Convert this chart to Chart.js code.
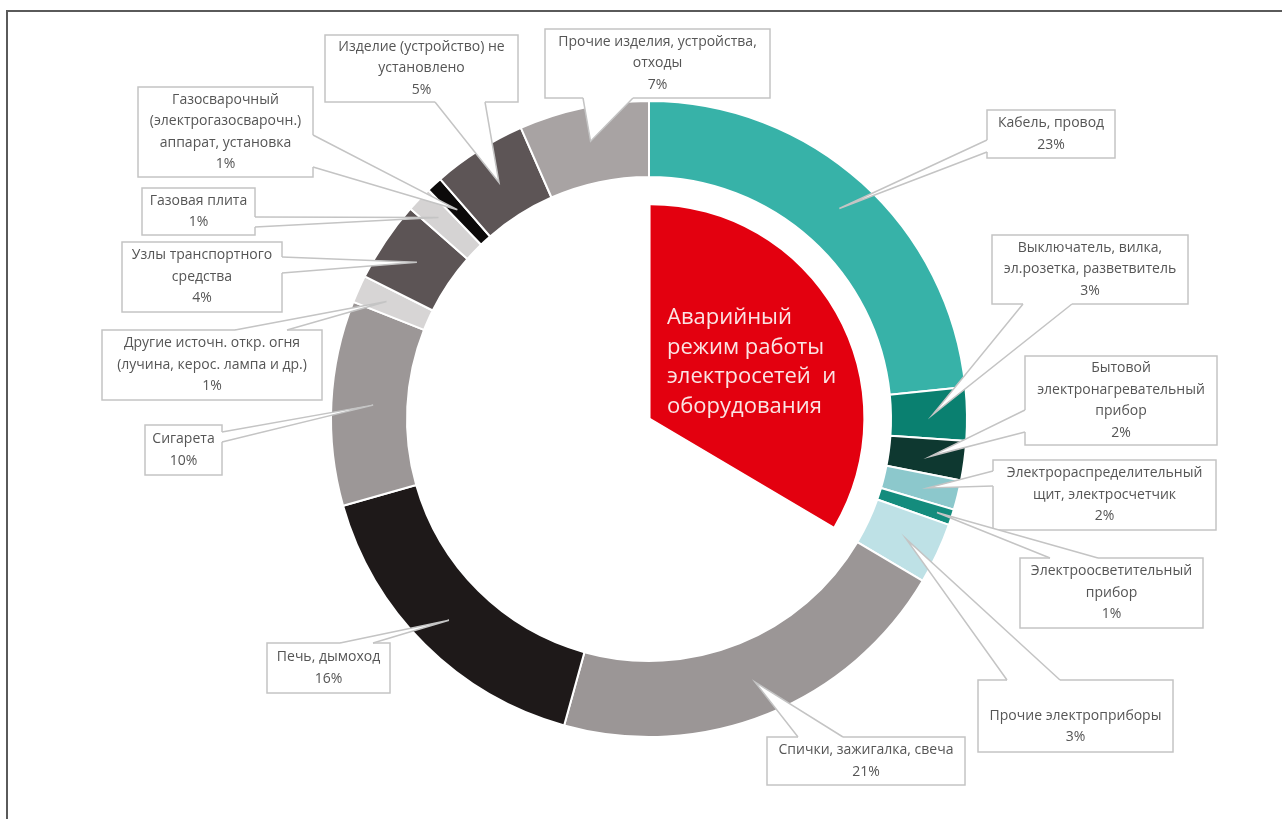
<!DOCTYPE html>
<html lang="ru">
<head>
<meta charset="UTF-8">
<title>Причины пожаров</title>
<script src="https://cdn.jsdelivr.net/npm/chart.js"></script>
<style>
    body { margin: 0; background: #fff; }
    #wrap { position: relative; width: 1282px; height: 819px; overflow: hidden; }
    #frame {
        position: absolute; left: 6px; top: 10px; width: 1400px; height: 900px;
        border-top: 2px solid #5a5a5a; border-left: 2px solid #5a5a5a;
    }
    canvas { position: absolute; left: 0; top: 0; }
</style>
</head>
<body>
<div id="wrap">
    <div id="frame"></div>
    <canvas id="fireChart" width="1282" height="819"></canvas>
</div>
<script>
// causes, clockwise from 12 o'clock
const categories = [
    'Кабель, провод',
    'Выключатель, вилка, эл.розетка, разветвитель',
    'Бытовой электронагревательный прибор',
    'Электрораспределительный щит, электросчетчик',
    'Электроосветительный прибор',
    'Прочие электроприборы',
    'Спички, зажигалка, свеча',
    'Печь, дымоход',
    'Сигарета',
    'Другие источн. откр. огня (лучина, керос. лампа и др.)',
    'Узлы транспортного средства',
    'Газовая плита',
    'Газосварочный (электрогазосварочн.) аппарат, установка',
    'Изделие (устройство) не установлено',
    'Прочие изделия, устройства, отходы'
];
const shares = [23.4, 2.7, 2.0, 1.5, 0.8, 3.1, 20.8, 16.3, 10.4, 1.4, 4.1, 1.3, 0.8, 4.8, 6.6];
const pctLabels = ['23%', '3%', '2%', '2%', '1%', '3%', '21%', '16%', '10%', '1%', '4%', '1%', '1%', '5%', '7%'];
const labelLines = [
    ['Кабель, провод'],
    ['Выключатель, вилка,', 'эл.розетка, разветвитель'],
    ['Бытовой', 'электронагревательный', 'прибор'],
    ['Электрораспределительный', 'щит, электросчетчик'],
    ['Электроосветительный', 'прибор'],
    ['', 'Прочие электроприборы'],
    ['Спички, зажигалка, свеча'],
    ['Печь, дымоход'],
    ['Сигарета'],
    ['Другие источн. откр. огня', '(лучина, керос. лампа и др.)'],
    ['Узлы транспортного', 'средства'],
    ['Газовая плита'],
    ['Газосварочный', '(электрогазосварочн.)', 'аппарат, установка'],
    ['Изделие (устройство) не', 'установлено'],
    ['Прочие изделия, устройства,', 'отходы']
];
const centerTitle = ['Аварийный', 'режим работы', 'электросетей  и', 'оборудования'];
// first six causes are the electrical ones
const electricCount = 6;

const colors = [
    '#37b2a8', '#0a8070', '#0e3830', '#8cc8cc', '#148c7d', '#bee1e6',
    '#9b9696', '#1e1919', '#9c9797', '#d7d5d5', '#5c5455', '#d5d3d3',
    '#0c0a0a', '#5d5556', '#a8a3a3'
];

// callout boxes: x, y, w, h, side where the pointer leaves, base from/to, tip radius fraction
const boxes = [
    [987, 110, 128, 48, 'left', 140, 152, 0.55],
    [992, 235, 196, 69, 'bottom', 1023, 1072, 0.55],
    [1025, 356, 192, 89, 'left', 410, 432, 0.55],
    [993, 460, 223, 70, 'left', 471, 486, 0.6],
    [1020, 558, 183, 70, 'top', 1050, 1098, 0.8],
    [978, 680, 195, 72, 'top', 1007, 1060, 0.55],
    [767, 737, 198, 48, 'top', 798, 843, 0.55],
    [267, 643, 123, 50, 'top', 340, 373, 0.55],
    [145, 425, 77, 50, 'right', 432, 442, 0.45],
    [102, 330, 220, 70, 'top', 235, 287, 0.6],
    [122, 242, 160, 70, 'right', 257, 273, 0.5],
    [142, 188, 113, 47, 'right', 217, 227, 0.65],
    [138, 87, 175, 90, 'right', 135, 167, 0.55],
    [325, 35, 193, 67, 'bottom', 435, 485, 0.5],
    [545, 29, 225, 69, 'bottom', 583, 633, 0.55]
];

const callouts = {
    id: 'callouts',
    afterDatasetsDraw(chart) {
        const ctx = chart.ctx;
        const arcs = chart.getDatasetMeta(0).data;
        ctx.save();
        ctx.lineWidth = 1.5;
        ctx.strokeStyle = '#c4c4c4';
        boxes.forEach((b, i) => {
            const [x, y, w, h, side, a1, a2, frac] = b;
            const p = arcs[i].getProps(['x', 'y', 'startAngle', 'endAngle', 'innerRadius', 'outerRadius'], true);
            const mid = (p.startAngle + p.endAngle) / 2;
            const r = p.innerRadius + frac * (p.outerRadius - p.innerRadius);
            const tx = p.x + Math.cos(mid) * r;
            const ty = p.y + Math.sin(mid) * r;
            let b1, b2, in1, in2;
            if (side === 'left') { b1 = [x, a1]; b2 = [x, a2]; in1 = [x + 3, a1]; in2 = [x + 3, a2]; }
            if (side === 'right') { b1 = [x + w, a1]; b2 = [x + w, a2]; in1 = [x + w - 3, a1]; in2 = [x + w - 3, a2]; }
            if (side === 'top') { b1 = [a1, y]; b2 = [a2, y]; in1 = [a1, y + 3]; in2 = [a2, y + 3]; }
            if (side === 'bottom') { b1 = [a1, y + h]; b2 = [a2, y + h]; in1 = [a1, y + h - 3]; in2 = [a2, y + h - 3]; }

            ctx.fillStyle = '#fff';
            ctx.fillRect(x, y, w, h);
            ctx.strokeRect(x, y, w, h);

            ctx.beginPath();
            ctx.moveTo(in1[0], in1[1]);
            ctx.lineTo(b1[0], b1[1]);
            ctx.lineTo(tx, ty);
            ctx.lineTo(b2[0], b2[1]);
            ctx.lineTo(in2[0], in2[1]);
            ctx.closePath();
            ctx.fill();
            ctx.beginPath();
            ctx.moveTo(b1[0], b1[1]);
            ctx.lineTo(tx, ty);
            ctx.lineTo(b2[0], b2[1]);
            ctx.stroke();

            const lines = labelLines[i].concat([pctLabels[i]]);
            const lh = 21.5;
            const top = y + h / 2 - (lines.length * lh) / 2 + lh / 2;
            ctx.fillStyle = '#555';
            ctx.font = '14px "Open Sans", sans-serif';
            ctx.textAlign = 'center';
            ctx.textBaseline = 'middle';
            lines.forEach((t, k) => ctx.fillText(t, x + w / 2, top + k * lh));
        });

        // caption inside the red slice
        ctx.fillStyle = '#fbe4e4';
        ctx.font = '22px "Open Sans", sans-serif';
        ctx.textAlign = 'left';
        ctx.textBaseline = 'alphabetic';
        centerTitle.forEach((t, k) => ctx.fillText(t, 667, 324 + k * 29.5));
        ctx.restore();
    }
};

const electricShare = shares.slice(0, electricCount).reduce((s, v) => s + v, 0);

new Chart(document.getElementById('fireChart'), {
    type: 'doughnut',
    data: {
        labels: categories,
        datasets: [{
            data: shares,
            backgroundColor: colors,
            borderColor: '#ffffff',
            borderWidth: 2,
            hoverOffset: 0,
            weight: 76
        }, {
            data: [1],
            backgroundColor: 'rgba(0,0,0,0)',
            borderWidth: 0,
            hoverOffset: 0,
            weight: 27
        }, {
            data: [electricShare, 100 - electricShare],
            backgroundColor: ['#e3000f', 'rgba(0,0,0,0)'],
            borderWidth: 0,
            hoverOffset: 0,
            offset: [7, 0],
            weight: 215
        }]
    },
    options: {
        responsive: false,
        animation: false,
        events: [],
        cutout: 0,
        layout: { padding: { left: 330, right: 314, top: 100, bottom: 81 } },
        plugins: {
            legend: { display: false },
            tooltip: { enabled: false }
        }
    },
    plugins: [callouts]
});
</script>
</body>
</html>
